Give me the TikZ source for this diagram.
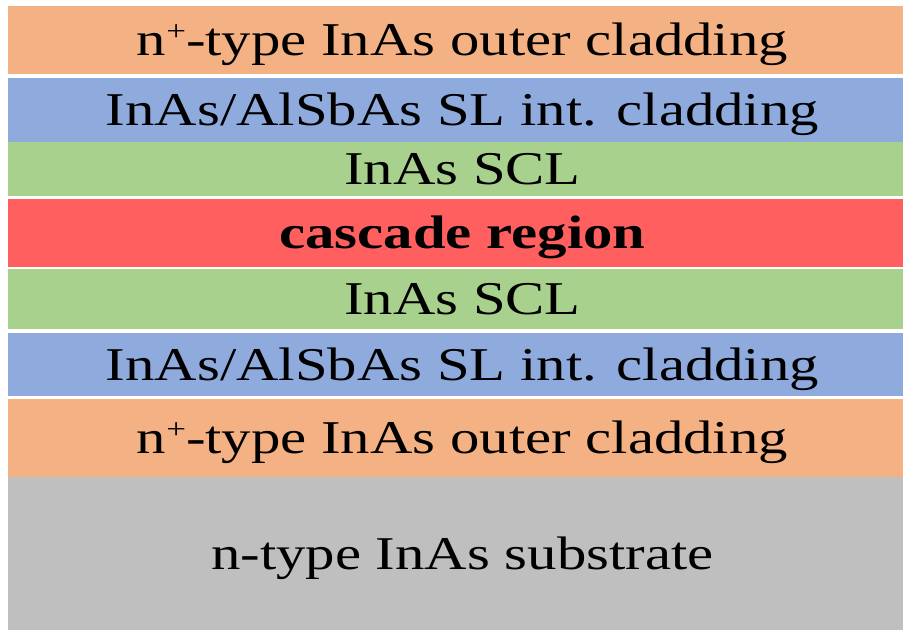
\documentclass[tikz,border=0pt]{standalone}
\usepackage{fontspec}
\setmainfont{Liberation Serif}
\usepackage{graphicx}
\definecolor{lorange}{HTML}{F4B183}
\definecolor{lblue}{HTML}{8FAADC}
\definecolor{lgreen}{HTML}{A9D18E}
\definecolor{lred}{HTML}{FF5F5F}
\definecolor{lgray}{HTML}{BFBFBF}
\newcommand{\wide}[1]{\hspace*{14pt}\scalebox{1.25}[1]{#1}}
\newcommand{\plussup}{\raisebox{15pt}{\fontsize{28}{28}\selectfont +}}
\tikzset{
  layer/.style={anchor=north west, inner sep=0pt, outer sep=0pt, minimum width=895pt,
    font=\fontsize{47}{47}\selectfont, text height=31pt, text depth=0pt, align=center}
}
\begin{document}
\begin{tikzpicture}[x=1pt,y=-1pt]
\useasboundingbox[fill=white] (0,0) rectangle (903,630);
\node[layer, fill=lorange, minimum height=68pt] (l1) at (8,6) {\wide{n\plussup-type InAs outer cladding}};
\node[layer, fill=lblue, minimum height=64pt] (l2) at (8,78) {\wide{InAs/AlSbAs SL int. cladding}};
\node[layer, fill=lgreen, minimum height=54pt] (l3) at (8,142) {\wide{InAs SCL}};
\node[layer, fill=lred, minimum height=68pt] (l4) at (8,199) {\wide{\textbf{cascade region}}};
\node[layer, fill=lgreen, minimum height=60pt] (l5) at (8,269) {\wide{InAs SCL}};
\node[layer, fill=lblue, minimum height=63pt] (l6) at (8,333) {\wide{InAs/AlSbAs SL int. cladding}};
\node[layer, fill=lorange, minimum height=78pt] (l7) at (8,399) {\wide{n\plussup-type InAs outer cladding}};
\node[layer, fill=lgray, minimum height=153pt] (l8) at (8,477) {\wide{n-type InAs substrate}};
\end{tikzpicture}
\end{document}
